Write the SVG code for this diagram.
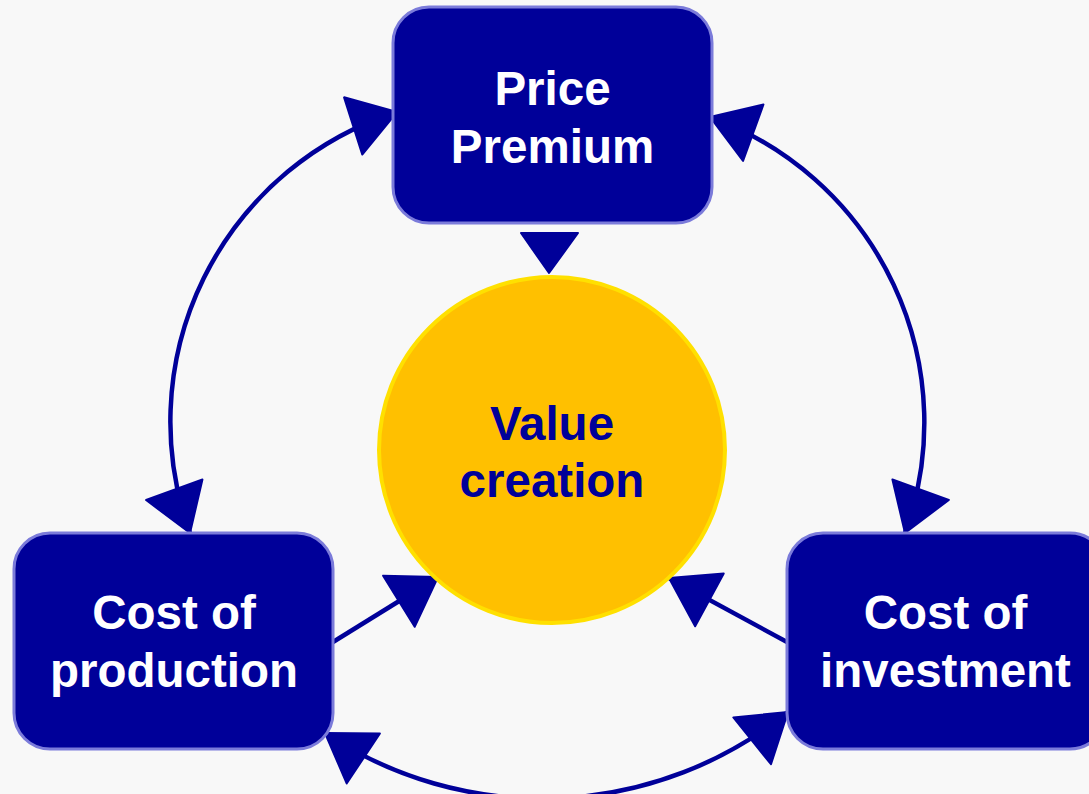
<svg xmlns="http://www.w3.org/2000/svg" width="1089" height="794" viewBox="0 0 1089 794">
<style>
.box{fill:#000099;stroke:#7B7BDA;stroke-width:3}
.lbl{font-family:"Liberation Sans",Arial,sans-serif;font-weight:bold;font-size:47.5px;text-anchor:middle}
.w{fill:#FFFFFF}
.b{fill:#000099}
.conn{fill:none;stroke:#000099;stroke-width:4.5}
.head{fill:#000099;stroke:#000099;stroke-width:2;stroke-linejoin:round}
</style>
<defs>
<marker id="arr" markerUnits="userSpaceOnUse" viewBox="-3 -33 52 66" refX="46" refY="0" markerWidth="52" markerHeight="66" orient="auto-start-reverse">
<path class="head" d="M0,-30 L46,0 L0,30 Z"/>
</marker>
</defs>
<rect x="0" y="0" width="1089" height="794" fill="#F8F8F8"/>
<g id="connectors">
<path class="conn" d="M397,112 A325,325 0 0,0 190,533" marker-start="url(#arr)" marker-end="url(#arr)"/>
<path class="conn" d="M710,117 A325,325 0 0,1 905,533" marker-start="url(#arr)" marker-end="url(#arr)"/>
<path class="conn" d="M325,733 A392,392 0 0,0 788,712" marker-start="url(#arr)" marker-end="url(#arr)"/>
<path class="conn" d="M333,642 L438,577" marker-end="url(#arr)"/>
<path class="conn" d="M787,642 L669,578" marker-end="url(#arr)"/>
<polygon class="head" points="521,233 578,233 549,273"/>
</g>
<g id="price-premium">
<rect class="box" x="393" y="7" width="319" height="216" rx="36" ry="36"/>
<text class="lbl w" x="552.5" y="105">Price</text>
<text class="lbl w" x="552.5" y="163">Premium</text>
</g>
<g id="value-creation">
<circle cx="552" cy="450" r="173" fill="#FFC000" stroke="#FFE000" stroke-width="4"/>
<text class="lbl b" x="552" y="440">Value</text>
<text class="lbl b" x="552" y="497">creation</text>
</g>
<g id="cost-of-production">
<rect class="box" x="14" y="533" width="319" height="216" rx="36" ry="36"/>
<text class="lbl w" x="174" y="629">Cost of</text>
<text class="lbl w" x="174" y="687">production</text>
</g>
<g id="cost-of-investment">
<rect class="box" x="787" y="533" width="319" height="216" rx="36" ry="36"/>
<text class="lbl w" x="945.5" y="629">Cost of</text>
<text class="lbl w" x="945.5" y="687">investment</text>
</g>
</svg>
